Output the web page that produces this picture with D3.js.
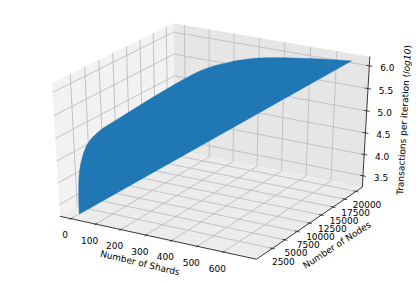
<!DOCTYPE html>
<html>
<head>
<meta charset="utf-8">
<script src="https://d3js.org/d3.v7.min.js"></script>
<style>
body { margin: 0; background: #fff; }
text { font-family: "DejaVu Sans", sans-serif; font-size: 9px; fill: #000; }
</style>
</head>
<body>
<svg width="416" height="282"></svg>
<script>
var xTicks = [0, 100, 200, 300, 400, 500, 600];
var yTicks = [2500, 5000, 7500, 10000, 12500, 15000, 17500, 20000];
var zTicks = [3.5, 4.0, 4.5, 5.0, 5.5, 6.0];

// upper edge of the surface
var edgeShards = [1, 3, 11, 26, 42, 57, 219, 293, 384, 540, 679];
var edgeNodes = [852, 850, 962, 1864, 3558, 5340, 13964, 15680, 16912, 18694, 20100];
var edgeTx = [3.23, 3.73, 4.30, 4.80, 5.01, 5.10, 5.84, 5.99, 6.10, 6.14, 6.14];

var svg = d3.select("svg");

var ux = d3.scaleLinear().domain([-45, 725]).range([0, 1]),
    uy = d3.scaleLinear().domain([-600, 21400]).range([0, 1]),
    uz = d3.scaleLinear().domain([3.23, 6.2]).range([0, 1]);

// same view as a mplot3d axes: azim -60, elev 30, dist 10
var sx = d3.scaleLinear().domain([0, 1]).range([213.5, 2481.5]),
    sy = d3.scaleLinear().domain([0, 1]).range([137.2, -1384.8]);

function project(a, b, c) {
  var px = a - 0.5, py = b - 0.5, pz = c - 0.5;
  var u = 0.866 * px + 0.5 * py,
      v = -0.25 * px + 0.433 * py + 0.866 * pz,
      n = 0.433 * px - 0.75 * py + 0.5 * pz,
      w = 10 - n;
  return [sx(u / w), sy(v / w)];
}

var line = d3.line();

function seg(g, a, b, color, width) {
  g.append("path")
      .attr("d", line([project(a[0], a[1], a[2]), project(b[0], b[1], b[2])]))
      .attr("fill", "none")
      .attr("stroke", color)
      .attr("stroke-width", width);
}

// panes
var panes = [
  {fill: "#f2f2f2", pts: [[0, 0, 0], [0, 1, 0], [0, 1, 1], [0, 0, 1]]},
  {fill: "#e6e6e6", pts: [[0, 1, 0], [1, 1, 0], [1, 1, 1], [0, 1, 1]]},
  {fill: "#ececec", pts: [[0, 0, 0], [1, 0, 0], [1, 1, 0], [0, 1, 0]]}
];
svg.selectAll(".pane")
    .data(panes)
  .enter().append("path")
    .attr("class", "pane")
    .attr("fill", function(d) { return d.fill; })
    .attr("d", function(d) {
      return line(d.pts.map(function(p) { return project(p[0], p[1], p[2]); })) + "Z";
    });

// grid
var grid = svg.append("g");
var gridColor = "#bdbdbd", gridWidth = 0.9;
xTicks.forEach(function(t) {
  var a = ux(t);
  seg(grid, [a, 0, 0], [a, 1, 0], gridColor, gridWidth);
  seg(grid, [a, 1, 0], [a, 1, 1], gridColor, gridWidth);
});
yTicks.forEach(function(t) {
  var b = uy(t);
  seg(grid, [0, b, 0], [1, b, 0], gridColor, gridWidth);
  seg(grid, [0, b, 0], [0, b, 1], gridColor, gridWidth);
});
zTicks.forEach(function(t) {
  var c = uz(t);
  seg(grid, [0, 0, c], [0, 1, c], gridColor, gridWidth);
  seg(grid, [0, 1, c], [1, 1, c], gridColor, gridWidth);
});

// axis lines
var axes = svg.append("g");
seg(axes, [0, 0, 0], [1, 0, 0], "#222", 0.9);
seg(axes, [1, 0, 0], [1, 1, 0], "#222", 0.9);
seg(axes, [1, 1, 0], [1, 1, 1], "#222", 0.9);

function label(t, p, dx, dy) {
  svg.append("text")
      .attr("x", p[0] + dx)
      .attr("y", p[1] + dy)
      .attr("text-anchor", "middle")
      .attr("dominant-baseline", "central")
      .text(t);
}

xTicks.forEach(function(t) {
  var a = ux(t);
  seg(axes, [a, -0.012, 0], [a, 0.012, 0], "#222", 0.8);
  label(t, project(a, 0, 0), -6, 16.5);
});
yTicks.forEach(function(t) {
  var b = uy(t);
  seg(axes, [0.988, b, 0], [1.012, b, 0], "#222", 0.8);
  label(t, project(1, b, 0), 11, 13.5);
});
zTicks.forEach(function(t) {
  var c = uz(t);
  seg(axes, [0.985, 1, c], [1.015, 1, c], "#222", 0.8);
  label(t.toFixed(1), project(1, 1, c), 18, 2);
});

// surface
var upper = edgeShards.map(function(d, i) {
  return project(ux(d), uy(edgeNodes[i]), uz(edgeTx[i]));
});
var curve = d3.line().curve(d3.curveCatmullRom.alpha(0.5));
svg.append("path")
    .attr("d", curve(upper) + "Z")
    .attr("fill", "#1f77b4")
    .attr("stroke", "#1f77b4")
    .attr("stroke-width", 0.5);

// axis titles
svg.append("text")
    .attr("text-anchor", "middle")
    .attr("dominant-baseline", "central")
    .attr("transform", "translate(140,263) rotate(13.5)")
    .text("Number of Shards");
svg.append("text")
    .attr("text-anchor", "middle")
    .attr("dominant-baseline", "central")
    .attr("transform", "translate(337,245) rotate(-33)")
    .text("Number of Nodes");
var zt = svg.append("text")
    .attr("text-anchor", "middle")
    .attr("dominant-baseline", "central")
    .attr("transform", "translate(404,120) rotate(-87)");
zt.append("tspan").text("Transactions per iteration (");
zt.append("tspan").attr("font-style", "italic").text("log10");
zt.append("tspan").text(")");
</script>
</body>
</html>
